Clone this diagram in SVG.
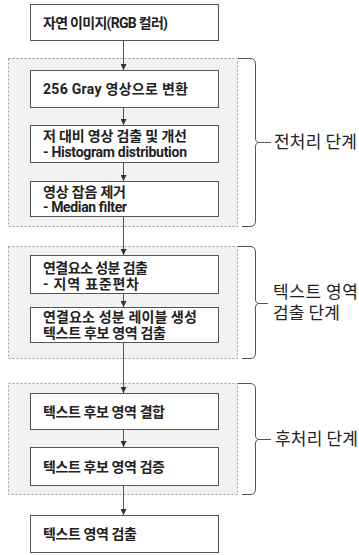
<svg xmlns="http://www.w3.org/2000/svg" width="359" height="555" viewBox="0 0 359 555">
<style>
.grp{fill:#f2f2f2;stroke:#9a9a9a;stroke-width:1;stroke-dasharray:2,2}
.box{fill:#ffffff;stroke:#555555;stroke-width:1}
.t{font-family:Roboto,"Noto Sans CJK KR",sans-serif;font-size:14px;font-weight:700;fill:#222222}
.lab{font-family:"Noto Sans CJK KR","Noto Sans",sans-serif;font-size:17px;fill:#222222}
.conn{stroke:#555555;stroke-width:1;fill:none}
.brace{stroke:#555555;stroke-width:1;fill:none}
</style>
<defs>
<marker id="ah" viewBox="0 0 6 6" refX="6" refY="3" markerWidth="6" markerHeight="6" orient="auto" markerUnits="userSpaceOnUse">
<path d="M0,0 L6,3 L0,6 z" fill="#333333"/>
</marker>
</defs>
<g id="groups">
<rect id="group-pre" class="grp" x="8.5" y="58.5" width="229" height="168"/>
<rect id="group-detect" class="grp" x="8.5" y="246.5" width="229" height="112"/>
<rect id="group-post" class="grp" x="8.5" y="383.5" width="229" height="111"/>
</g>
<g id="connectors">
<line class="conn" x1="123.5" y1="40" x2="123.5" y2="70" marker-end="url(#ah)"/>
<line class="conn" x1="123.5" y1="108" x2="123.5" y2="125" marker-end="url(#ah)"/>
<line class="conn" x1="123.5" y1="162" x2="123.5" y2="181" marker-end="url(#ah)"/>
<line class="conn" x1="123.5" y1="217" x2="123.5" y2="255" marker-end="url(#ah)"/>
<line class="conn" x1="123.5" y1="294" x2="123.5" y2="307" marker-end="url(#ah)"/>
<line class="conn" x1="123.5" y1="343" x2="123.5" y2="393" marker-end="url(#ah)"/>
<line class="conn" x1="123.5" y1="430" x2="123.5" y2="447" marker-end="url(#ah)"/>
<line class="conn" x1="123.5" y1="486" x2="123.5" y2="515" marker-end="url(#ah)"/>
</g>
<g id="n1"><rect class="box" x="30.5" y="4.5" width="188" height="36"/><text class="t" x="43" y="28" textLength="125" lengthAdjust="spacing">자연 이미지(RGB 컬러)</text></g>
<g id="n2"><rect class="box" x="30.5" y="70.5" width="188" height="37"/><text class="t" x="43" y="94" textLength="145" lengthAdjust="spacing">256 Gray 영상으로 변환</text></g>
<g id="n3"><rect class="box" x="30.5" y="125.5" width="188" height="37"/><text class="t"><tspan x="43" y="141" textLength="144" lengthAdjust="spacing">저 대비 영상 검출 및 개선</tspan><tspan x="43" y="157" textLength="144" lengthAdjust="spacing">- Histogram distribution</tspan></text></g>
<g id="n4"><rect class="box" x="30.5" y="181.5" width="188" height="35"/><text class="t"><tspan x="43" y="197" textLength="83" lengthAdjust="spacing">영상 잡음 제거</tspan><tspan x="43" y="212" textLength="84" lengthAdjust="spacing">- Median filter</tspan></text></g>
<g id="n5"><rect class="box" x="30.5" y="255.5" width="188" height="38"/><text class="t"><tspan x="43" y="273" textLength="105" lengthAdjust="spacing">연결요소 성분 검출</tspan><tspan x="43" y="289" textLength="96" lengthAdjust="spacing">- 지역 표준편차</tspan></text></g>
<g id="n6"><rect class="box" x="30.5" y="307.5" width="188" height="35"/><text class="t"><tspan x="43" y="322" textLength="154" lengthAdjust="spacing">연결요소 성분 레이블 생성</tspan><tspan x="43" y="338" textLength="123" lengthAdjust="spacing">텍스트 후보 영역 검출</tspan></text></g>
<g id="n7"><rect class="box" x="30.5" y="393.5" width="188" height="36"/><text class="t" x="43" y="417" textLength="122" lengthAdjust="spacing">텍스트 후보 영역 결합</text></g>
<g id="n8"><rect class="box" x="30.5" y="447.5" width="188" height="38"/><text class="t" x="43" y="472" textLength="122" lengthAdjust="spacing">텍스트 후보 영역 검증</text></g>
<g id="n9"><rect class="box" x="30.5" y="515.5" width="188" height="37"/><text class="t" x="43" y="539" textLength="94" lengthAdjust="spacing">텍스트 영역 검출</text></g>
<g id="braces">
<path class="brace" d="M238,58.5 L250,58.5 Q255.5,58.5 255.5,64 L255.5,138 Q255.5,142.5 259,142.5 L271,142.5 M259,142.5 Q255.5,142.5 255.5,147 L255.5,221 Q255.5,226.5 250,226.5 L242,226.5"/>
<path class="brace" d="M238,246.5 L250,246.5 Q255.5,246.5 255.5,252 L255.5,299 Q255.5,303.5 259,303.5 L268,303.5 M259,303.5 Q255.5,303.5 255.5,308 L255.5,353 Q255.5,358.5 250,358.5 L242,358.5"/>
<path class="brace" d="M238,383.5 L250,383.5 Q255.5,383.5 255.5,389 L255.5,435 Q255.5,439.5 259,439.5 L271,439.5 M259,439.5 Q255.5,439.5 255.5,444 L255.5,489 Q255.5,494.5 250,494.5 L242,494.5"/>
</g>
<g id="labels">
<text class="lab" x="274" y="148" textLength="83" lengthAdjust="spacing">전처리 단계</text>
<text class="lab"><tspan x="273" y="298" textLength="85" lengthAdjust="spacing">텍스트 영역</tspan><tspan x="273" y="319" textLength="67" lengthAdjust="spacing">검출 단계</tspan></text>
<text class="lab" x="275" y="445" textLength="83" lengthAdjust="spacing">후처리 단계</text>
</g>
</svg>
